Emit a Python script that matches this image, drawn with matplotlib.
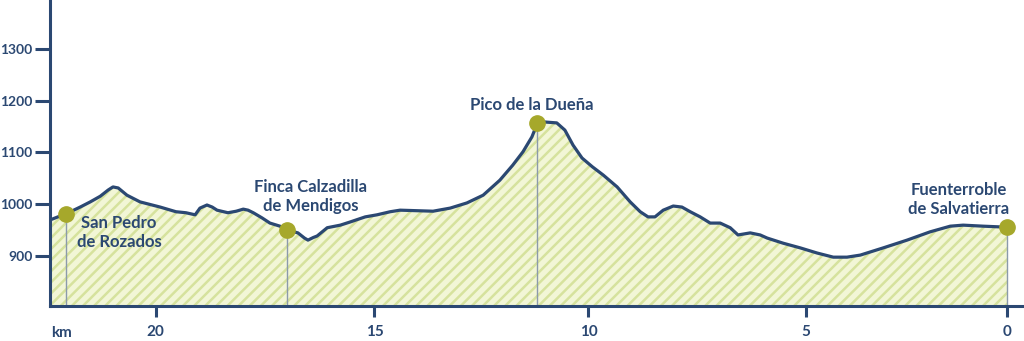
import numpy as np
import matplotlib.pyplot as plt

# elevation profile, distance counted back from Fuenterroble (km) and altitude (m)
km = [22.42, 22.24, 22.05, 21.73, 21.50, 21.27, 21.09, 20.98, 20.86, 20.66,
      20.36, 19.90, 19.54, 19.31, 19.10, 18.99, 18.83, 18.71, 18.60, 18.35,
      18.16, 18.00, 17.89, 17.77, 17.57, 17.39, 17.16, 17.00, 16.75, 16.60,
      16.52, 16.40, 16.31, 16.08, 15.78, 15.56, 15.21, 14.94, 14.63, 14.40,
      13.63, 13.23, 12.84, 12.46, 12.07, 11.77, 11.53, 11.32, 11.20, 11.06,
      10.74, 10.55, 10.36, 10.15, 9.91, 9.66, 9.34, 9.04, 8.81, 8.63,
      8.47, 8.28, 8.05, 7.85, 7.66, 7.43, 7.20, 6.97, 6.74, 6.56,
      6.42, 6.28, 6.05, 5.89, 5.52, 5.13, 4.72, 4.32, 3.98, 3.65,
      3.08, 2.49, 1.92, 1.42, 1.10, 0.60, 0.00]
elev = [969, 975, 981, 994, 1004, 1015, 1027, 1033, 1031, 1017,
        1004, 994, 985, 983, 979, 992, 998, 994, 988, 983,
        986, 990, 988, 983, 973, 963, 957, 950, 944, 934,
        930, 935, 938, 954, 959, 965, 975, 979, 985, 988,
        986, 992, 1002, 1017, 1046, 1075, 1101, 1130, 1155, 1159,
        1157, 1143, 1114, 1089, 1072, 1056, 1033, 1004, 985, 975,
        975, 988, 996, 994, 985, 975, 963, 963, 954, 940,
        942, 944, 940, 934, 924, 915, 905, 897, 897, 901,
        915, 930, 946, 957, 959, 957, 955]

stop_names = ['San Pedro\nde Rozados', 'Finca Calzadilla\nde Mendigos',
              'Pico de la Dueña', 'Fuenterroble\nde Salvatierra']
stop_km = [22.05, 17.0, 11.2, 0.0]
stop_elev = [980, 950, 1157, 955]

x_ticks = [20, 15, 10, 5, 0]
y_ticks = [900, 1000, 1100, 1200, 1300]

# the drawn axis is not evenly spaced, so map km onto it piecewise
scale_km = [-5, 0, 5, 10, 15, 20, 30]
scale_pos = [-201.6, 0, 201.6, 419.0, 633.0, 851.6, 1288.8]
label_offsets = [(38, -13), (17, 24), (-4, 13), (-35, 20)]

navy = '#2b4872'
olive = '#a6a82b'

plt.rcParams['font.family'] = ['Lato', 'DejaVu Sans']
plt.rcParams['hatch.linewidth'] = 1.8

fig = plt.figure(figsize=(10.24, 3.41), dpi=100)
ax = fig.add_axes([50 / 1024, 35.3 / 341, 1 - 50 / 1024, 1 - 35.3 / 341])

ax.set_xscale('function', functions=(lambda x: np.interp(x, scale_km, scale_pos),
                                     lambda y: np.interp(y, scale_pos, scale_km)))

ax.fill_between(km, elev, 780, facecolor='#f2f6d6', edgecolor='#d6e29d',
                hatch='///', linewidth=0, zorder=1)
ax.vlines(stop_km, 780, stop_elev, color='#8b9aab', linewidth=1, zorder=2)
ax.plot(km, elev, color=navy, linewidth=2.3, solid_capstyle='round',
        solid_joinstyle='round', zorder=3)
ax.plot(stop_km, stop_elev, 'o', color=olive, markersize=11, zorder=4)

for name, x, y, off in zip(stop_names, stop_km, stop_elev, label_offsets):
    ax.annotate(name, (x, y), xytext=off, textcoords='offset points',
                ha='center', va='center', fontsize=12, fontweight='bold',
                color=navy, linespacing=1.25, zorder=5)

ax.set_xlim(22.42, -0.41)
ax.set_ylim(803, 1395)
ax.set_xticks(x_ticks)
ax.set_yticks(y_ticks)
ax.tick_params(axis='y', length=11, width=2.2, pad=1.5, color=navy,
               labelcolor=navy, labelsize=10)
ax.tick_params(axis='x', length=8, width=2.2, pad=6, color=navy,
               labelcolor=navy, labelsize=11)
for lab in ax.get_xticklabels() + ax.get_yticklabels():
    lab.set_fontweight('bold')

for side in ['top', 'right']:
    ax.spines[side].set_visible(False)
for side in ['left', 'bottom']:
    ax.spines[side].set_color(navy)
    ax.spines[side].set_linewidth(2.2)

fig.text(51 / 1024, 8 / 341, 'km', ha='left', va='center', fontsize=11,
         fontweight='bold', color=navy)

fig.savefig('out.png', dpi=100)
